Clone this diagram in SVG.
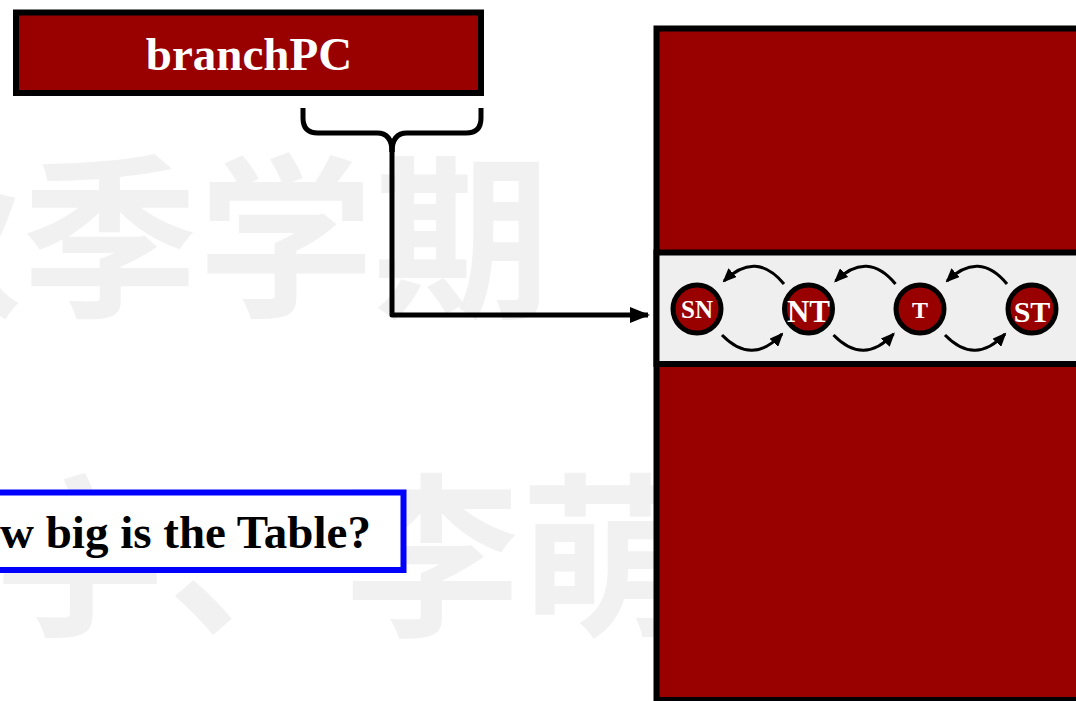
<svg xmlns="http://www.w3.org/2000/svg" width="1076" height="701" viewBox="0 0 1076 701">
  <style>
    .wm { font-family: "Noto Sans CJK SC", sans-serif; font-weight: 700; font-size: 176px; fill: #f1f1f1; }
    .red { fill: #990000; stroke: #000; stroke-width: 6; }
    .lbl { font-family: "Liberation Serif", "Times New Roman", serif; font-weight: 700; fill: #fff; text-anchor: middle; }
    .state { fill: #990000; stroke: #000; stroke-width: 5; }
    .trans { fill: none; stroke: #000; stroke-width: 3; marker-end: url(#small); }
    .wire { fill: none; stroke: #000; stroke-width: 5; stroke-linejoin: round; }
  </style>
  <defs>
    <marker id="small" markerUnits="userSpaceOnUse" markerWidth="14" markerHeight="12" refX="12" refY="6" orient="auto">
      <path d="M0,0 L14,6 L0,12 z" fill="#000"/>
    </marker>
    <marker id="big" markerUnits="userSpaceOnUse" markerWidth="20" markerHeight="16" refX="18" refY="8" orient="auto">
      <path d="M0,0 L20,8 L0,16 z" fill="#000"/>
    </marker>
    <!-- one pair of transitions between neighbouring states -->
    <g id="pair">
      <path class="trans" d="M784 284 Q756 250 724 281"/>
      <path class="trans" d="M722 335 Q752 366 782 334"/>
    </g>
  </defs>

  <rect width="1076" height="701" fill="#fff"/>

  <!-- background watermark -->
  <g id="watermark">
    <text class="wm" x="-154" y="304">秋季学期</text>
    <text class="wm" x="-8" y="623">宇、李萌</text>
  </g>

  <!-- prediction table -->
  <g id="table">
    <rect class="red" x="656.5" y="28.5" width="500" height="671.5"/>
    <rect x="656.5" y="252.5" width="500" height="111.5" fill="#efefef" stroke="#000" stroke-width="6"/>
  </g>

  <!-- branch PC register -->
  <g id="branchPC">
    <rect class="red" x="16" y="12.5" width="465" height="80.5"/>
    <text class="lbl" x="249" y="70" font-size="47">branchPC</text>
  </g>

  <!-- 2-bit counter states -->
  <g id="state-SN">
    <circle class="state" cx="697" cy="309" r="24"/>
    <text class="lbl" x="697" y="318" font-size="25">SN</text>
  </g>
  <g id="state-NT">
    <circle class="state" cx="808.5" cy="309" r="24"/>
    <text class="lbl" x="808.5" y="321.5" font-size="31">NT</text>
  </g>
  <g id="state-T">
    <circle class="state" cx="920" cy="309" r="24"/>
    <text class="lbl" x="920" y="318" font-size="24">T</text>
  </g>
  <g id="state-ST">
    <circle class="state" cx="1032" cy="309" r="24"/>
    <text class="lbl" x="1032" y="321.5" font-size="30">ST</text>
  </g>

  <!-- question box -->
  <g id="question">
    <rect x="-100" y="492.5" width="503.5" height="77.5" fill="#fff" stroke="#0000ff" stroke-width="6"/>
    <text x="0" y="548" font-family="Liberation Serif, 'Times New Roman', serif" font-weight="700" font-size="47" fill="#000">w big is the Table?</text>
  </g>

  <!-- connectors -->
  <g id="connectors">
    <path class="wire" d="M303 108 L303 118 Q303 133 318 133 L377 133 Q392 133 392 152"/>
    <path class="wire" d="M481 108 L481 118 Q481 133 466 133 L407 133 Q392 133 392 152"/>
    <path class="wire" d="M392 145 L392 315 L648 315" marker-end="url(#big)" stroke-linejoin="miter"/>
    <use href="#pair"/>
    <use href="#pair" transform="translate(111.5 0)"/>
    <use href="#pair" transform="translate(223 0)"/>
  </g>
</svg>
